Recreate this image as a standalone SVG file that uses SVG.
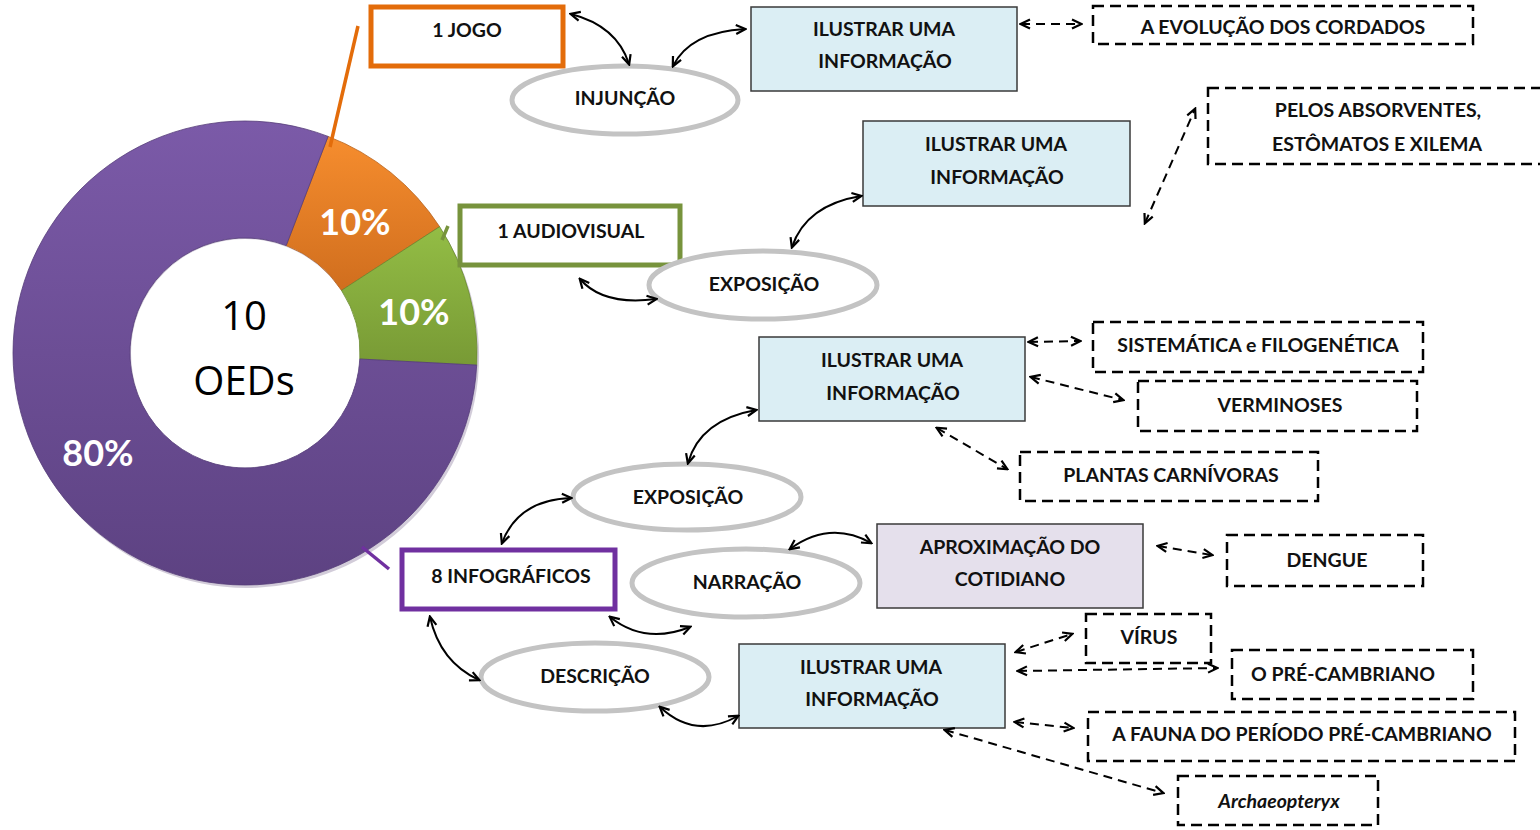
<svg xmlns="http://www.w3.org/2000/svg" width="1540" height="830" viewBox="0 0 1540 830">
  <defs>
    <linearGradient id="gPurple" x1="0" y1="0" x2="0" y2="1">
      <stop offset="0" stop-color="#7b5aa8"/>
      <stop offset="1" stop-color="#5d4282"/>
    </linearGradient>
    <linearGradient id="gOrange" x1="0" y1="0" x2="0" y2="1">
      <stop offset="0" stop-color="#f68d2e"/>
      <stop offset="1" stop-color="#d06e1e"/>
    </linearGradient>
    <linearGradient id="gGreen" x1="0" y1="0" x2="0" y2="1">
      <stop offset="0" stop-color="#93bd45"/>
      <stop offset="1" stop-color="#789a35"/>
    </linearGradient>
    <marker id="arr" viewBox="0 0 12 12" refX="10" refY="6" markerWidth="12" markerHeight="12" markerUnits="userSpaceOnUse" orient="auto-start-reverse">
      <path d="M1,1.5 L10.5,6 L1,10.5" fill="none" stroke="#000" stroke-width="2.2" stroke-linejoin="miter"/>
    </marker>
    <style>
      .lbl { font-family: Lato, "Liberation Sans", sans-serif; font-weight: bold; font-size: 19.5px; fill: #111; text-anchor: middle; dominant-baseline: central; }
      .pct { font-family: Lato, "Liberation Sans", sans-serif; font-weight: bold; font-size: 36px; fill: #fff; text-anchor: middle; dominant-baseline: central; }
      .ctr { font-family: "Open Sans", "Liberation Sans", sans-serif; font-size: 40px; fill: #000; text-anchor: middle; dominant-baseline: central; }
      .oval { fill: #fff; stroke: #c3c3c3; stroke-width: 5; }
      .info { fill: #dbeef4; stroke: #3a3a3a; stroke-width: 1.5; }
      .aprox { fill: #e5e0ec; stroke: #3a3a3a; stroke-width: 1.5; }
      .topic { fill: #fff; stroke: #000; stroke-width: 2.5; stroke-dasharray: 11 6; }
      .solid { fill: none; stroke: #000; stroke-width: 2; marker-start: url(#arr); marker-end: url(#arr); }
      .dash { fill: none; stroke: #000; stroke-width: 2; stroke-dasharray: 9 6; marker-start: url(#arr); marker-end: url(#arr); }
    </style>
  </defs>

  <rect width="1540" height="830" fill="#fff"/>

  <!-- donut chart: 10 OEDs -->
  <g id="donut">
    <path d="M245,121 A232,232 0 1 0 245,585 A232,232 0 1 0 245,121 Z M245,238 A115,115 0 1 1 245,468 A115,115 0 1 1 245,238 Z" fill="#4a3468" fill-rule="evenodd" opacity="0.25" transform="translate(2,3)"/>
    <path d="M328.1,136.4 A232,232 0 0 1 439.6,226.7 L341.5,290.4 A115,115 0 0 0 286.2,245.6 Z" fill="url(#gOrange)" stroke="#b8621b" stroke-width="0.8"/>
    <path d="M439.6,226.7 A232,232 0 0 1 476.7,365.1 L359.8,359.0 A115,115 0 0 0 341.5,290.4 Z" fill="url(#gGreen)" stroke="#6a8a2e" stroke-width="0.8"/>
    <path d="M476.7,365.1 A232,232 0 1 1 328.1,136.4 L286.2,245.6 A115,115 0 1 0 359.8,359.0 Z" fill="url(#gPurple)" stroke="#553c78" stroke-width="0.8"/>
    <circle cx="245" cy="353" r="114" fill="#fff"/>
    <text class="pct" x="355" y="221">10%</text>
    <text class="pct" x="414" y="311">10%</text>
    <text class="pct" x="98" y="452">80%</text>
    <text class="ctr" x="244" y="314">10</text>
    <text class="ctr" x="244" y="379">OEDs</text>
  </g>

  <!-- leader lines from the chart slices -->
  <g id="leaders" fill="none" stroke-width="3.5">
    <line x1="330" y1="147" x2="358" y2="26" stroke="#e36c0a"/>
    <line x1="442" y1="240" x2="448" y2="226" stroke="#77933c"/>
    <line x1="362" y1="547" x2="389" y2="569" stroke="#7030a0"/>
  </g>

  <!-- type nodes -->
  <g id="n-jogo">
    <rect x="371" y="7" width="192" height="59" fill="#fff" stroke="#e36c0a" stroke-width="5"/>
    <text class="lbl" x="467" y="29">1 JOGO</text>
  </g>
  <g id="n-audiovisual">
    <rect x="460" y="206" width="220" height="59" fill="#fff" stroke="#77933c" stroke-width="5"/>
    <text class="lbl" x="571" y="230">1 AUDIOVISUAL</text>
  </g>
  <g id="n-infograficos">
    <rect x="402" y="550" width="213" height="59" fill="#fff" stroke="#7030a0" stroke-width="5"/>
    <text class="lbl" x="511" y="575">8 INFOGRÁFICOS</text>
  </g>

  <!-- text-sequence ovals -->
  <g id="n-injuncao">
    <ellipse class="oval" cx="625" cy="100" rx="113" ry="34"/>
    <text class="lbl" x="625" y="97">INJUNÇÃO</text>
  </g>
  <g id="n-exposicao1">
    <ellipse class="oval" cx="763" cy="285" rx="114" ry="34"/>
    <text class="lbl" x="764" y="283">EXPOSIÇÃO</text>
  </g>
  <g id="n-exposicao2">
    <ellipse class="oval" cx="687" cy="497" rx="114" ry="33"/>
    <text class="lbl" x="688" y="496">EXPOSIÇÃO</text>
  </g>
  <g id="n-narracao">
    <ellipse class="oval" cx="746" cy="583" rx="114" ry="34"/>
    <text class="lbl" x="747" y="581">NARRAÇÃO</text>
  </g>
  <g id="n-descricao">
    <ellipse class="oval" cx="595" cy="677" rx="114" ry="34"/>
    <text class="lbl" x="595" y="675">DESCRIÇÃO</text>
  </g>

  <!-- purpose boxes -->
  <g id="n-ilustrar1">
    <rect class="info" x="751" y="7" width="266" height="84"/>
    <text class="lbl" x="884" y="28">ILUSTRAR UMA</text>
    <text class="lbl" x="885" y="60">INFORMAÇÃO</text>
  </g>
  <g id="n-ilustrar2">
    <rect class="info" x="863" y="121" width="267" height="85"/>
    <text class="lbl" x="996" y="143">ILUSTRAR UMA</text>
    <text class="lbl" x="997" y="176">INFORMAÇÃO</text>
  </g>
  <g id="n-ilustrar3">
    <rect class="info" x="759" y="337" width="266" height="84"/>
    <text class="lbl" x="892" y="359">ILUSTRAR UMA</text>
    <text class="lbl" x="893" y="392">INFORMAÇÃO</text>
  </g>
  <g id="n-aproximacao">
    <rect class="aprox" x="877" y="524" width="266" height="84"/>
    <text class="lbl" x="1010" y="546">APROXIMAÇÃO DO</text>
    <text class="lbl" x="1010" y="578">COTIDIANO</text>
  </g>
  <g id="n-ilustrar4">
    <rect class="info" x="739" y="644" width="266" height="84"/>
    <text class="lbl" x="871" y="666">ILUSTRAR UMA</text>
    <text class="lbl" x="872" y="698">INFORMAÇÃO</text>
  </g>

  <!-- topics -->
  <g id="t-cordados">
    <rect class="topic" x="1093" y="6" width="380" height="38"/>
    <text class="lbl" x="1283" y="26">A EVOLUÇÃO DOS CORDADOS</text>
  </g>
  <g id="t-pelos">
    <rect class="topic" x="1208" y="88" width="345" height="76"/>
    <text class="lbl" x="1378" y="109">PELOS ABSORVENTES,</text>
    <text class="lbl" x="1377" y="143">ESTÔMATOS E XILEMA</text>
  </g>
  <g id="t-sistematica">
    <rect class="topic" x="1093" y="322" width="330" height="50"/>
    <text class="lbl" x="1258" y="344">SISTEMÁTICA e FILOGENÉTICA</text>
  </g>
  <g id="t-verminoses">
    <rect class="topic" x="1138" y="381" width="279" height="50"/>
    <text class="lbl" x="1280" y="404">VERMINOSES</text>
  </g>
  <g id="t-plantas">
    <rect class="topic" x="1020" y="452" width="298" height="49"/>
    <text class="lbl" x="1171" y="474">PLANTAS CARNÍVORAS</text>
  </g>
  <g id="t-dengue">
    <rect class="topic" x="1227" y="535" width="196" height="51"/>
    <text class="lbl" x="1327" y="559">DENGUE</text>
  </g>
  <g id="t-virus">
    <rect class="topic" x="1086" y="614" width="125" height="49"/>
    <text class="lbl" x="1149" y="636">VÍRUS</text>
  </g>
  <g id="t-precambriano">
    <rect class="topic" x="1232" y="650" width="241" height="49"/>
    <text class="lbl" x="1343" y="673">O PRÉ-CAMBRIANO</text>
  </g>
  <g id="t-fauna">
    <rect class="topic" x="1088" y="712" width="427" height="49"/>
    <text class="lbl" x="1302" y="733">A FAUNA DO PERÍODO PRÉ-CAMBRIANO</text>
  </g>
  <g id="t-archaeopteryx">
    <rect class="topic" x="1178" y="776" width="200" height="49"/>
    <text class="lbl" x="1279" y="800" font-style="italic">Archaeopteryx</text>
  </g>

  <!-- connectors -->
  <g id="connectors">
    <path class="solid" d="M571,14 Q617,26 629,64"/>
    <path class="solid" d="M673,66 Q690,32 745,29"/>
    <path class="solid" d="M580,279 Q603,306 656,299"/>
    <path class="solid" d="M792,247 Q806,205 861,196"/>
    <path class="solid" d="M688,463 Q700,420 756,410"/>
    <path class="solid" d="M502,543 Q518,500 571,498"/>
    <path class="solid" d="M790,549 Q830,520 871,543"/>
    <path class="solid" d="M610,617 Q645,645 690,627"/>
    <path class="solid" d="M430,617 Q440,662 479,680"/>
    <path class="solid" d="M660,707 Q695,740 738,716"/>

    <path class="dash" d="M1021,24 L1081,24"/>
    <path class="dash" d="M1145,223 L1195,109"/>
    <path class="dash" d="M1029,342 L1080,341"/>
    <path class="dash" d="M1031,377 L1123,400"/>
    <path class="dash" d="M937,428 L1007,469"/>
    <path class="dash" d="M1158,546 L1212,555"/>
    <path class="dash" d="M1016,652 L1072,634"/>
    <path class="dash" d="M1018,671 L1217,668"/>
    <path class="dash" d="M1015,722 L1073,728"/>
    <path class="dash" d="M945,730 L1163,793"/>
  </g>
</svg>
